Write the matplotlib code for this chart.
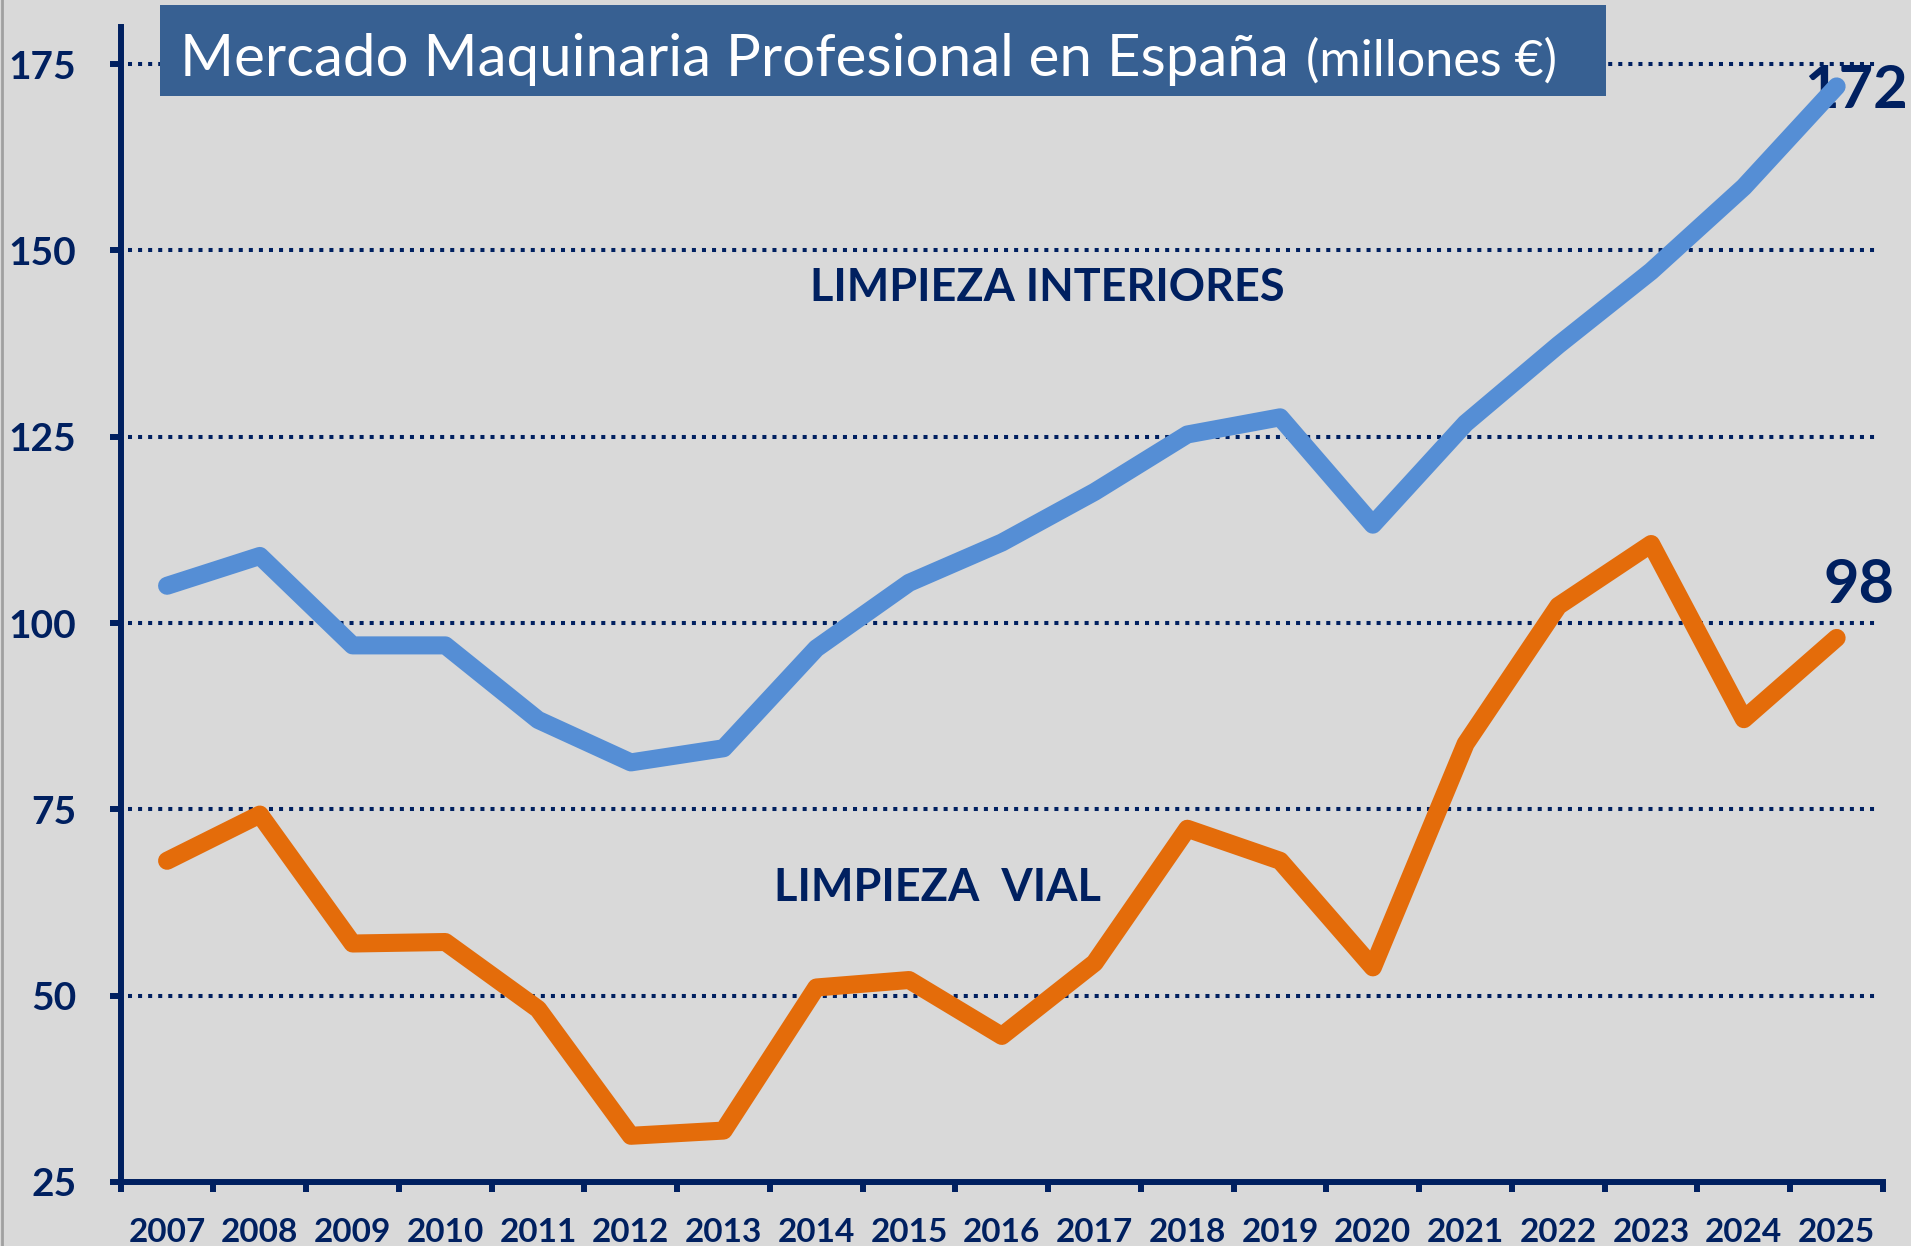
import matplotlib
matplotlib.use("Agg")
import matplotlib.pyplot as plt
from matplotlib.patches import Rectangle
from matplotlib.lines import Line2D

years = ["2007", "2008", "2009", "2010", "2011", "2012", "2013", "2014", "2015", "2016",
         "2017", "2018", "2019", "2020", "2021", "2022", "2023", "2024", "2025"]
interiores = [105, 109, 97, 97, 87, 81.3, 83.2, 96.6, 105.4, 110.8,
              117.6, 125.3, 127.6, 113.2, 126.8, 137.3, 147.2, 158.5, 172]
vial = [68.1, 74.3, 57, 57.2, 48.2, 31.2, 31.9, 51.1, 52.1, 44.6,
        54.4, 72.4, 68.1, 53.8, 83.8, 102.3, 110.6, 87.1, 98]
yticks = [25, 50, 75, 100, 125, 150, 175]
title_main = "Mercado Maquinaria Profesional en España"
title_unit = "(millones €)"
label_int = "LIMPIEZA INTERIORES"
label_vial = "LIMPIEZA  VIAL"

NAVY = "#002060"
BLUE = "#558ED5"
ORANGE = "#E46C0A"
BG = "#D9D9D9"
BOX = "#376092"
FONT = "Lato"

W, H = 1911, 1246
fig = plt.figure(figsize=(W / 100, H / 100), dpi=100, facecolor=BG)
ax = fig.add_axes([120.7 / W, 64 / H, (1883 - 120.7) / W, (1182 - 26.8) / H])
ax.set_facecolor(BG)

x = list(range(len(years)))
n = len(years)
ax.set_xlim(-0.5, n - 0.5)
ax.set_ylim(25, 180)

# gridlines
ax.hlines(yticks[1:], -0.42, n - 0.55, colors=NAVY, linestyles=(0, (1, 1.5)),
          linewidth=2.9, zorder=1)

ax.plot(x, interiores, color=BLUE, lw=13, solid_capstyle="round",
        solid_joinstyle="round", zorder=4)
ax.plot(x, vial, color=ORANGE, lw=13, solid_capstyle="round",
        solid_joinstyle="round", zorder=4)

for s in ["top", "right"]:
    ax.spines[s].set_visible(False)
for s in ["left", "bottom"]:
    ax.spines[s].set_color(NAVY)
    ax.spines[s].set_linewidth(4.3)
    ax.spines[s].set_zorder(5)

ax.set_yticks(yticks)
ax.set_yticklabels([str(v) for v in yticks])
ax.tick_params(axis="y", direction="out", length=8, width=4.3, color=NAVY,
               pad=24, labelsize=28, labelcolor=NAVY)

ax.set_xticks([i - 0.5 for i in range(n + 1)])
ax.set_xticklabels([])
ax.set_xticks(x, minor=True)
ax.set_xticklabels(years, minor=True)
ax.tick_params(axis="x", which="major", direction="out", length=7, width=4.3, color=NAVY)
ax.tick_params(axis="x", which="minor", length=0, pad=26, labelsize=24, labelcolor=NAVY)
for lab in ax.get_xticklabels(minor=True) + ax.get_yticklabels():
    lab.set_fontfamily(FONT)
    lab.set_fontweight("bold")

renderer = fig.canvas.get_renderer()


def fit(t, target):
    w = t.get_window_extent(renderer).width
    t.set_fontsize(t.get_fontsize() * target / w)


# title box
fig.patches.append(Rectangle((160 / W, (H - 96) / H), 1446 / W, 91 / H,
                             transform=fig.transFigure, facecolor=BOX,
                             edgecolor="none", zorder=10))
t1 = fig.text(180 / W, (H - 76) / H, title_main, color="white", fontsize=40,
              family=FONT, ha="left", va="baseline", zorder=11)
fit(t1, 1109)
t2 = fig.text(1306 / W, (H - 76) / H, title_unit, color="white", fontsize=28,
              family=FONT, ha="left", va="baseline", zorder=11)
fit(t2, 251)

# series labels
l1 = ax.text(9.49, 144.9, label_int, color=NAVY, fontsize=28, family=FONT,
             fontweight="bold", ha="center", va="center", zorder=6)
fit(l1, 475)
l2 = ax.text(8.31, 64.5, label_vial, color=NAVY, fontsize=28, family=FONT,
             fontweight="bold", ha="center", va="center", zorder=6)
fit(l2, 327)

# end values
a1 = ax.annotate(f"{interiores[-1]:g}", (x[-1], interiores[-1]), xytext=(14, -3),
                 textcoords="offset points", color=NAVY, fontsize=44, family=FONT,
                 fontweight="bold", ha="center", va="center", zorder=3,
                 annotation_clip=False)
fit(a1, 104)
a2 = ax.annotate(f"{vial[-1]:g}", (x[-1], vial[-1]), xytext=(16, 38),
                 textcoords="offset points", color=NAVY, fontsize=44, family=FONT,
                 fontweight="bold", ha="center", va="center", zorder=3,
                 annotation_clip=False)
fit(a2, 71)

fig.lines.append(Line2D([0.0008, 0.0008], [0, 1], transform=fig.transFigure,
                        color="#A0A0A0", lw=2))

fig.savefig("out.png", dpi=100, facecolor=BG)
